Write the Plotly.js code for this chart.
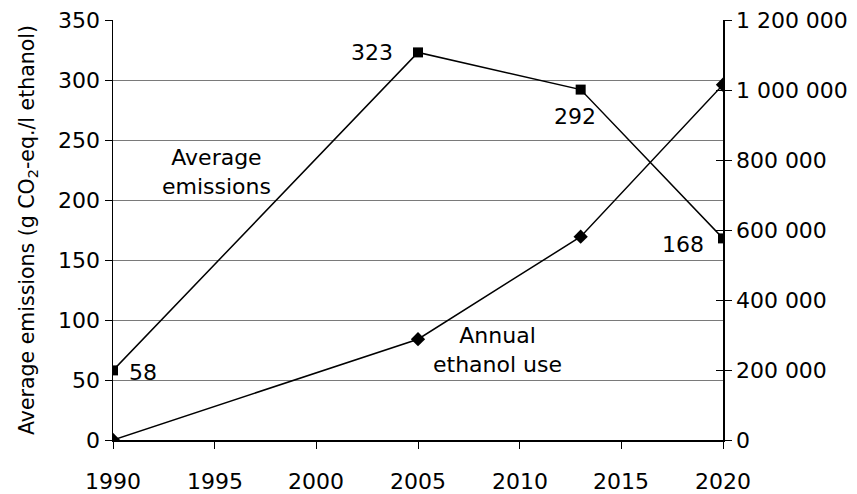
<!DOCTYPE html>
<html><head><meta charset="utf-8">
<script src="https://cdn.plot.ly/plotly-3.0.1.min.js"></script>
<style>body{margin:0;background:#fff}#c{width:857px;height:494px}</style>
</head><body><div id="c"></div>
<script>
const years = [1990, 2005, 2013, 2020];
const emissions = [58, 323, 292, 168];
const ethanolUse = [0, 288000, 581000, 1015000];
const emissionLabels = ['58', '323', '292', '168'];
const xTicks = [1990, 1995, 2000, 2005, 2010, 2015, 2020];
const leftTicks = [0, 50, 100, 150, 200, 250, 300, 350];
const rightTicks = [0, 200000, 400000, 600000, 800000, 1000000, 1200000];
const rightTickText = ['0', '200 000', '400 000', '600 000', '800 000', '1 000 000', '1 200 000'];

const FONT = 'DejaVu Sans, Liberation Sans, Arial, sans-serif';
const FS = 22;
const labelShift = [[30, -2], [-46, 0], [-6, -27], [-40, -6]];

const traces = [
  {x: years, y: emissions, type: 'scatter', mode: 'lines+markers',
   line: {color: '#000', width: 1.5}, marker: {symbol: 'square', size: 10, color: '#000'},
   hoverinfo: 'none', yaxis: 'y'},
  {x: years, y: ethanolUse, type: 'scatter', mode: 'lines+markers',
   line: {color: '#000', width: 1.5}, marker: {symbol: 'diamond', size: 11, color: '#000'},
   hoverinfo: 'none', yaxis: 'y2'},
  // invisible helper so the right axis can also show its inward tick halves
  {x: [years[0]], y: [ethanolUse[0]], type: 'scatter', mode: 'markers',
   marker: {opacity: 0}, hoverinfo: 'none', yaxis: 'y3'}
];

const annotations = years.map((yr, i) => ({
  x: yr, y: emissions[i], xref: 'x', yref: 'y', text: emissionLabels[i],
  showarrow: false, xshift: labelShift[i][0], yshift: labelShift[i][1],
  font: {family: FONT, size: FS, color: '#000'}
}));
annotations.push({x: 1995.1, y: 223, xref: 'x', yref: 'y', text: 'Average<br>emissions',
  showarrow: false, font: {family: FONT, size: FS, color: '#000'}});
annotations.push({x: 2008.9, y: 75, xref: 'x', yref: 'y', text: 'Annual<br>ethanol use',
  showarrow: false, font: {family: FONT, size: FS, color: '#000'}});
// x-axis tick labels, placed a little further below the axis as in the reference
xTicks.forEach(t => annotations.push({
  x: t, y: 0, xref: 'x', yref: 'paper', text: String(t), showarrow: false,
  yanchor: 'top', yshift: -27, font: {family: FONT, size: FS, color: '#000'}
}));

const layout = {
  width: 857, height: 494,
  margin: {l: 113, r: 133.5, t: 20, b: 54},
  paper_bgcolor: '#fff', plot_bgcolor: '#fff',
  showlegend: false,
  font: {family: FONT, size: FS, color: '#000'},
  xaxis: {range: [1990, 2020], tickvals: xTicks, ticks: 'outside', ticklen: 7,
    tickcolor: '#000', showgrid: false, showline: true, linecolor: '#000', linewidth: 1.5,
    zeroline: false, mirror: false, showticklabels: false},
  yaxis: {range: [0, 350], tickvals: leftTicks, ticks: 'outside', ticklen: 7,
    tickcolor: '#000', showgrid: true, gridcolor: '#7a7a7a', gridwidth: 1,
    showline: true, linecolor: '#000', linewidth: 1.5, zeroline: false,
    tickfont: {family: FONT, size: FS},
    title: {text: 'Average emissions (g CO<sub>2</sub>-eq./l ethanol)', standoff: 18,
      font: {family: FONT, size: 20.5}}},
  yaxis2: {range: [0, 1200000], overlaying: 'y', side: 'right', tickvals: rightTicks,
    ticktext: rightTickText, ticks: 'outside', ticklen: 7, tickcolor: '#000',
    showgrid: false, showline: true, linecolor: '#000', linewidth: 1.5, zeroline: false,
    tickfont: {family: FONT, size: FS}},
  yaxis3: {range: [0, 1200000], overlaying: 'y', side: 'right', tickvals: rightTicks,
    ticks: 'inside', ticklen: 7, tickcolor: '#000', showticklabels: false,
    showgrid: false, showline: false, zeroline: false},
  annotations: annotations
};

Plotly.newPlot('c', traces, layout, {staticPlot: true, displayModeBar: false});
</script></body></html>
